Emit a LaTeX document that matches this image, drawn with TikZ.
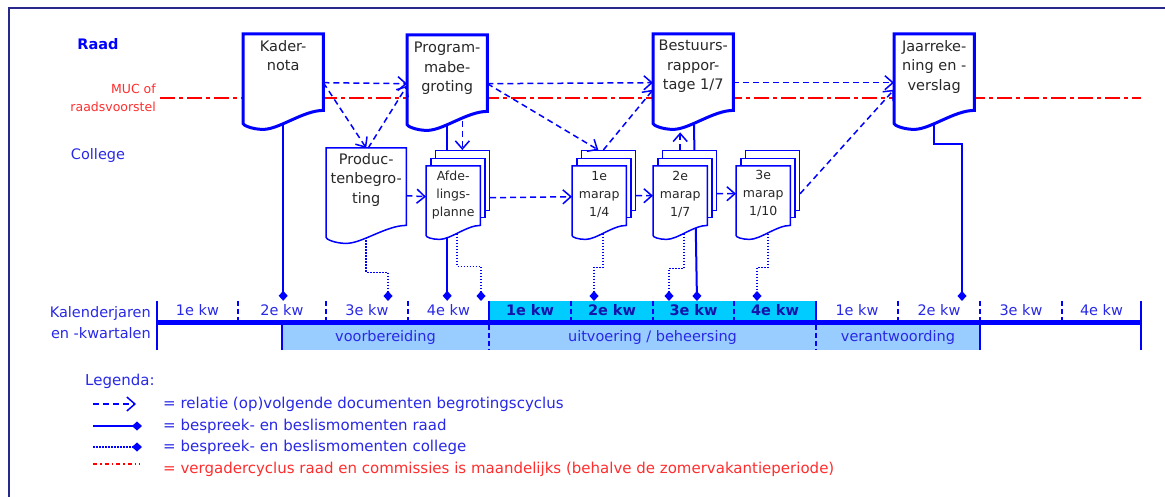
\documentclass[tikz,border=0pt]{standalone}
\usepackage{fontspec}
\setmainfont{DejaVu Sans}
\usetikzlibrary{arrows.meta, calc, positioning}

\definecolor{docblue}{RGB}{0,0,255}
\definecolor{txtblue}{RGB}{40,40,230}
\definecolor{kwblue}{RGB}{20,20,170}
\definecolor{mucred}{RGB}{255,0,0}
\definecolor{muctxt}{RGB}{255,45,45}
\definecolor{kwcyan}{RGB}{0,204,255}
\definecolor{faseblue}{RGB}{153,204,255}
\definecolor{framenavy}{RGB}{40,40,140}
\definecolor{doctxt}{RGB}{40,40,40}

\newcommand{\fsz}[2]{\fontsize{#1}{#2}\selectfont}

\tikzstyle{docbox} = [rectangle, inner sep=0pt, minimum width=80pt, minimum height=89pt, anchor=north west]
\tikzstyle{stackdoc} = [rectangle, inner sep=0pt, minimum width=54pt, minimum height=69pt, anchor=north west]
\tikzstyle{backdoc} = [rectangle, color=docblue, draw=docblue, fill=white, line width=1.5pt, inner sep=0pt, minimum width=54pt, anchor=north west]
\tikzstyle{doctext} = [anchor=north, align=center, inner sep=0pt, text=doctxt, font=\fsz{14.5}{19.5}]
\tikzstyle{smalltext} = [doctext, font=\fsz{12.5}{18}]
\tikzstyle{lbl} = [inner sep=0pt, text=txtblue, font=\fsz{14.5}{21}]
\tikzstyle{legtext} = [lbl, anchor=west, font=\fsz{15}{21}]
\tikzstyle{cell} = [rectangle, inner sep=0pt, minimum height=19pt, text=txtblue, font=\fsz{14.5}{17}]
\tikzstyle{cellhi} = [cell, fill=kwcyan, text=kwblue, font=\fsz{14.5}{17}\bfseries]
\tikzstyle{fase} = [rectangle, inner sep=0pt, minimum height=25pt, fill=faseblue, text=txtblue, font=\fsz{14.5}{17}]
\tikzstyle{flow} = [docblue, line width=1.5pt, dash pattern=on 6pt off 4pt, -{Straight Barb[length=8pt, width=14pt]}]
\tikzstyle{raadline} = [docblue, line width=2pt, -{Diamond[length=10pt, width=9pt]}]
\tikzstyle{collegeline} = [docblue, line width=1.5pt, dash pattern=on 1.5pt off 1.5pt, -{Diamond[length=10pt, width=9pt]}]
\tikzstyle{muc} = [mucred, line width=2.5pt, dash pattern=on 15pt off 4pt on 4pt off 4pt]
\tikzstyle{kwtick} = [docblue, line width=2pt, dash pattern=on 5pt off 3pt]
\tikzstyle{kwedge} = [docblue, line width=2.5pt]

% document symbol with wavy bottom: node, rise at right, dip, line width
\newcommand{\docshape}[4]{%
  \filldraw[docblue, fill=white, line width=#4]
    (#1.north west) -- (#1.north east) -- ($(#1.south east)+(0,-#2)$)
    .. controls ($(#1.south east)!0.25!(#1.south west)+(0,-#2)$)
       and ($(#1.south east)!0.55!(#1.south west)+(0,#3)$)
    .. ($(#1.south east)!0.75!(#1.south west)+(0,#3)$)
    .. controls ($(#1.south east)!0.88!(#1.south west)+(0,#3)$)
       and ($(#1.south west)+(0,2)$)
    .. (#1.south west) -- cycle;}

\begin{document}
\begin{tikzpicture}[x=1pt, y=-1pt]
    \useasboundingbox (0,0) rectangle (1165,497);
    % frame
    \draw[framenavy, line width=1.5pt] (9,497) -- (9,8) -- (1165,8);

    % row labels
    \node[lbl, font=\fsz{14.5}{17}\bfseries, text=docblue] (raad) at (98,44) {Raad};
    \node[lbl, anchor=east, align=right, text=muctxt, font=\fsz{12.5}{17.5}] (muc) at (156,98) {MUC of\\raadsvoorstel};
    \node[lbl] (college) at (98,156) {College};
    \node[lbl, anchor=east, align=right] (kal) at (151,322.5) {Kalenderjaren\\en -kwartalen};

    % calendar quarters
    \foreach \i/\xa/\xb/\qn [evaluate=\xa as \w using \xb-\xa, evaluate=\xa as \c using (\xa+\xb)/2] in
        {1/157/238/1e, 2/238/326/2e, 3/326/408/3e, 4/408/489/4e,
         9/816/898/1e, 10/898/980/2e, 11/980/1062/3e, 12/1062/1141/4e}
        \node[cell, minimum width=\w pt] (q\i) at (\c,310.5) {\qn\ kw};
    \foreach \i/\xa/\xb/\qn [evaluate=\xa as \w using \xb-\xa, evaluate=\xa as \c using (\xa+\xb)/2] in
        {5/489/571/1e, 6/571/653/2e, 7/653/734/3e, 8/734/816/4e}
        \node[cellhi, minimum width=\w pt] (q\i) at (\c,310.5) {\qn\ kw};

    % phases
    \node[fase, minimum width=207pt] (voor) at (385.5,337.5) {voorbereiding};
    \node[fase, minimum width=327pt] (uitv) at (652.5,337.5) {uitvoering / beheersing};
    \node[fase, minimum width=164pt] (verant) at (898,337.5) {verantwoording};

    \foreach \i in {2,3,4,6,7,8,10,11,12}
        \draw[kwtick] (q\i.north west) -- (q\i.south west);
    \draw[kwedge] (q5.north west) -- (q5.south west);
    \draw[kwedge] (q9.north west) -- (q9.south west);
    \draw[kwedge] (q1.north west) -- (q1.north west |- voor.south);
    \draw[kwedge] (q12.north east) -- (q12.north east |- voor.south);
    \draw[kwedge] (voor.north west) -- (voor.south west);
    \draw[kwtick] (uitv.north west) -- (uitv.south west);
    \draw[kwtick] (verant.north west) -- (verant.south west);
    \draw[kwedge] (verant.north east) -- (verant.south east);
    \draw[docblue, line width=5pt] ([yshift=-2.5pt]q1.south west) -- ([yshift=-2.5pt]q12.south east);

    % documents (outlines drawn further down)
    \node[docbox] (kader) at (243,34) {};
    \node[docbox] (progbegr) at (407,35) {};
    \node[docbox] (bestuur) at (653,34) {};
    \node[docbox] (jaar) at (894,34) {};
    \node[docbox] (prod) at (326,148) {};
    \node[stackdoc] (afd) at (426,166) {};
    \node[stackdoc] (m1) at (572,166) {};
    \node[stackdoc] (m2) at (653,166) {};
    \node[stackdoc] (m3) at (736,166) {};

    % meeting cycle
    \draw[muc] ([xshift=4pt]muc.east) -- (muc.east -| q12.east);

    % raad moments
    \coordinate (d-best) at (697,301);
    \coordinate (d-jaar) at (962,301);
    \draw[raadline] (kader) -- (kader |- q1.north);
    \draw[raadline] (progbegr) -- (progbegr |- q1.north);
    \draw[raadline] (bestuur) -- (d-best);
    \draw[raadline] (jaar) -- ($(jaar.south)+(0,21)$) -| (d-jaar);

    % college moments
    \coordinate (d-prod) at (388,301);
    \coordinate (d-afd) at (481,301);
    \coordinate (d-m1) at (594,301);
    \coordinate (d-m2) at (669,301);
    \coordinate (d-m3) at (757,301);
    \draw[collegeline] (prod) -- ($(prod.south)+(0,35)$) -| (d-prod);
    \draw[collegeline] ($(afd.center)+(4,0)$) -- ($(afd.south)+(4,31)$) -| (d-afd);
    \draw[collegeline] ($(m1.center)+(4,0)$) -- ($(m1.south)+(4,32)$) -| (d-m1);
    \draw[collegeline] ($(m2.center)+(4,0)$) -- ($(m2.south)+(4,33)$) -| (d-m2);
    \draw[collegeline] ($(m3.center)+(5,0)$) -- ($(m3.south)+(5,32)$) -| (d-m3);

    % stacked documents
    \foreach \s in {afd, m1, m2, m3} {
        \node[backdoc, minimum height=60pt] (\s-b) at ($(\s.north west)+(8.6,-16)$) {};
        \node[backdoc, minimum height=59pt] (\s-m) at ($(\s.north west)+(4.3,-8)$) {};
        \docshape{\s}{10}{4}{1.5pt}
    }
    \docshape{prod}{12}{6}{1.5pt}
    \docshape{kader}{13}{6}{3pt}
    \docshape{progbegr}{13}{6}{3pt}
    \docshape{bestuur}{13}{6}{3pt}
    \docshape{jaar}{13}{6}{3pt}

    % document texts
    \node[doctext] (kader-t) at ($(kader.north)+(0,6)$) {Kader-\\nota};
    \node[doctext] (progbegr-t) at ($(progbegr.north)+(0,7)$) {Program-\\mabe-\\groting};
    \node[doctext] (bestuur-t) at ($(bestuur.north)+(0,6)$) {Bestuurs-\\rappor-\\tage 1/7};
    \node[doctext] (jaar-t) at ($(jaar.north)+(0,6)$) {Jaarreke-\\ning en -\\verslag};
    \node[doctext] (prod-t) at ($(prod.north)+(0,5)$) {Produc-\\tenbegro-\\ting};
    \node[smalltext] (afd-t) at ($(afd.north)+(0,5)$) {Afde-\\lings-\\planne};
    \node[smalltext] (m1-t) at ($(m1.north)+(0,5)$) {1e\\marap\\1/4};
    \node[smalltext] (m2-t) at ($(m2.north)+(0,5)$) {2e\\marap\\1/7};
    \node[smalltext] (m3-t) at ($(m3.north)+(0,4)$) {3e\\marap\\1/10};

    % document flow
    \draw[flow] ([yshift=-4pt]kader.east) -- ([yshift=-4pt]progbegr.west);
    \draw[flow] ([yshift=-4pt]kader.east) -- (prod.north);
    \draw[flow] ([xshift=2pt]prod.north) -- ([yshift=-6pt]progbegr.west);
    \draw[flow] ([yshift=-4pt]progbegr.east) -- ([yshift=-4pt]bestuur.west);
    \draw[flow] ([yshift=-4pt]progbegr.east) -- ([xshift=-10pt]m1-b.north);
    \draw[flow] ([xshift=-5pt]m1-b.north) -- ([yshift=-11pt]bestuur.west);
    \draw[flow] ([yshift=-4pt]bestuur.east) -- ([yshift=-4pt]jaar.west);
    \draw[flow] ([yshift=-13pt]m3-b.east) -- ([yshift=-11pt]jaar.west);
    \draw[flow] ($(progbegr.south -| afd-b.north)+(0,-3)$) -- (afd-b.north);
    \draw[flow] ([yshift=-3pt]prod.east) -- ([yshift=4pt]afd.west);
    \draw[flow] ([yshift=-17pt]afd-b.east) -- ([yshift=4pt]m1.west);
    \draw[flow] ([yshift=-15pt]m1-b.east) -- ([yshift=5pt]m2.west);
    \draw[flow] ([yshift=-13pt]m2-b.east) -- ([yshift=7pt]m3.west);
    \draw[flow] (m2 |- m2-b.north) -- ($(m2 |- bestuur.south)+(0,9)$);

    % legend
    \node[legtext] (legenda) at (85,381) {Legenda:};
    \coordinate (l1a) at (93,404);   \coordinate (l1b) at (136,404);
    \coordinate (l2a) at (93,426);   \coordinate (l2b) at (142,426);
    \coordinate (l3a) at (93,447);   \coordinate (l3b) at (142,447);
    \coordinate (l4a) at (93,464);   \coordinate (l4b) at (140,464);
    \draw[flow] (l1a) -- (l1b);
    \draw[raadline] (l2a) -- (l2b);
    \draw[collegeline] (l3a) -- (l3b);
    \draw[mucred, line width=1.2pt, dash pattern=on 4pt off 3pt on 1.5pt off 3pt] (l4a) -- (l4b);
    \node[legtext] (leg1) at (163,404) {= relatie (op)volgende documenten begrotingscyclus};
    \node[legtext] (leg2) at (163,426) {= bespreek- en beslismomenten raad};
    \node[legtext] (leg3) at (163,447) {= bespreek- en beslismomenten college};
    \node[legtext, text=muctxt] (leg4) at (163,469) {= vergadercyclus raad en commissies is maandelijks (behalve de zomervakantieperiode)};
\end{tikzpicture}
\end{document}
